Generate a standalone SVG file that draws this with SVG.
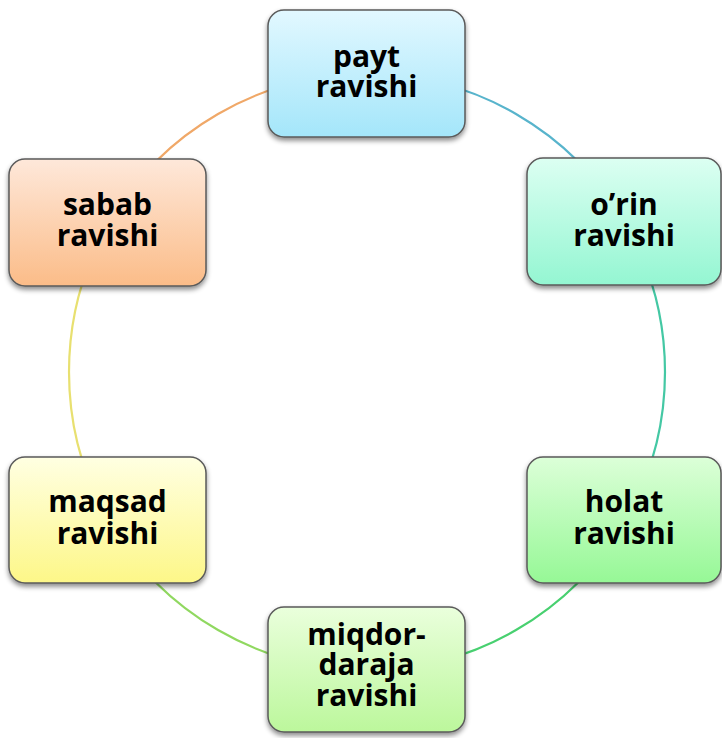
<svg xmlns="http://www.w3.org/2000/svg" width="722" height="738" viewBox="0 0 722 738">
<style>
.box{stroke:#5a5a5a;stroke-width:1.5;filter:url(#sh)}
.lbl{font-family:"Open Sans","DejaVu Sans",sans-serif;font-weight:700;font-size:30px;fill:#000;text-anchor:middle}
.arc{fill:none;stroke-width:2.2}
</style>
<defs>
<filter id="sh" x="-10%" y="-10%" width="120%" height="130%">
<feDropShadow dx="0" dy="3" stdDeviation="2.5" flood-color="#000" flood-opacity="0.45"/>
</filter>
<linearGradient id="gBlue" x1="0" y1="0" x2="0" y2="1"><stop offset="0" stop-color="#e2f8ff"/><stop offset="1" stop-color="#a4e6fa"/></linearGradient>
<linearGradient id="gTeal" x1="0" y1="0" x2="0" y2="1"><stop offset="0" stop-color="#dcfff2"/><stop offset="1" stop-color="#94f6d2"/></linearGradient>
<linearGradient id="gGreen" x1="0" y1="0" x2="0" y2="1"><stop offset="0" stop-color="#dcffd8"/><stop offset="1" stop-color="#96f896"/></linearGradient>
<linearGradient id="gLime" x1="0" y1="0" x2="0" y2="1"><stop offset="0" stop-color="#eaffdc"/><stop offset="1" stop-color="#bcf79c"/></linearGradient>
<linearGradient id="gYellow" x1="0" y1="0" x2="0" y2="1"><stop offset="0" stop-color="#ffffe2"/><stop offset="1" stop-color="#fdf788"/></linearGradient>
<linearGradient id="gOrange" x1="0" y1="0" x2="0" y2="1"><stop offset="0" stop-color="#fee8da"/><stop offset="1" stop-color="#fbbc88"/></linearGradient>
</defs>
<g id="connectors">
<path class="arc" stroke="#58b4cc" d="M367,74 A298,298 0 0 1 625.07,223"/>
<path class="arc" stroke="#44c8a4" d="M625.07,223 A298,298 0 0 1 625.07,521"/>
<path class="arc" stroke="#48d070" d="M625.07,521 A298,298 0 0 1 367,670"/>
<path class="arc" stroke="#90d860" d="M367,670 A298,298 0 0 1 108.93,521"/>
<path class="arc" stroke="#e8e070" d="M108.93,521 A298,298 0 0 1 108.93,223"/>
<path class="arc" stroke="#f0a868" d="M108.93,223 A298,298 0 0 1 367,74"/>
</g>
<g id="payt">
<rect class="box" x="268" y="10" width="197" height="127" rx="16" fill="url(#gBlue)"/>
<text class="lbl" x="366.5" y="67">payt</text>
<text class="lbl" x="366.5" y="97">ravishi</text>
</g>
<g id="orin">
<rect class="box" x="527" y="158" width="194" height="127" rx="16" fill="url(#gTeal)"/>
<text class="lbl" x="624" y="215">o’rin</text>
<text class="lbl" x="624" y="246">ravishi</text>
</g>
<g id="holat">
<rect class="box" x="527" y="457" width="194" height="126" rx="16" fill="url(#gGreen)"/>
<text class="lbl" x="624" y="512">holat</text>
<text class="lbl" x="624" y="544">ravishi</text>
</g>
<g id="miqdor">
<rect class="box" x="268" y="607" width="197" height="125" rx="16" fill="url(#gLime)"/>
<text class="lbl" x="366.5" y="645">miqdor-</text>
<text class="lbl" x="366.5" y="675">daraja</text>
<text class="lbl" x="366.5" y="706">ravishi</text>
</g>
<g id="maqsad">
<rect class="box" x="9" y="457" width="197" height="126" rx="16" fill="url(#gYellow)"/>
<text class="lbl" x="107.5" y="512">maqsad</text>
<text class="lbl" x="107.5" y="544">ravishi</text>
</g>
<g id="sabab">
<rect class="box" x="9" y="159" width="197" height="127" rx="16" fill="url(#gOrange)"/>
<text class="lbl" x="107.5" y="215">sabab</text>
<text class="lbl" x="107.5" y="246">ravishi</text>
</g>
</svg>
